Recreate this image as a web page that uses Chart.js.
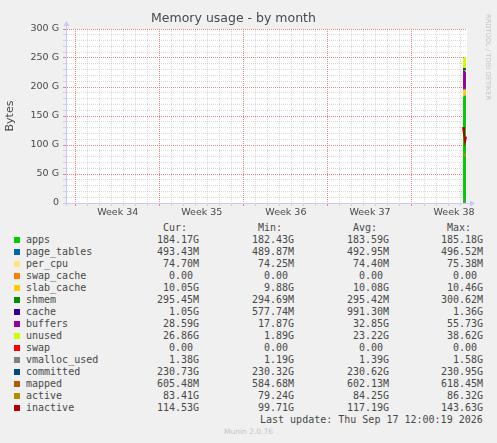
<!DOCTYPE html>
<html>
<head>
<meta charset="utf-8">
<title>Memory usage - by month</title>
<script src="https://cdn.jsdelivr.net/npm/chart.js@4.4.1/dist/chart.umd.min.js"></script>
<style>
  html, body { margin: 0; padding: 0; background: #f0f0f0; }
  #wrap { position: relative; width: 497px; height: 443px; overflow: hidden; font-family: "DejaVu Sans", sans-serif; }
  #chartBox { position: absolute; left: 0; top: 0; width: 497px; height: 222px; }
  .mono { position: absolute; font-family: "DejaVu Sans Mono", monospace; font-size: 10px; line-height: 12px; color: #484848; white-space: pre; }
  .swatch { position: absolute; width: 6px; height: 6px; }
  #rrd { position: absolute; left: 484px; top: 14px; font-size: 6.7px; line-height: 8px; color: #c4c4c4; writing-mode: vertical-rl; white-space: nowrap; }
  #munin { position: absolute; left: 0; width: 497px; top: 427px; text-align: center; font-size: 7.5px; line-height: 10px; color: #c4c4c4; }
</style>
</head>
<body>
<div id="wrap">
  <div id="chartBox"><canvas id="memChart"></canvas></div>
  <div id="rrd">RRDTOOL / TOBI OETIKER</div>
  <div id="legend"></div>
  <div id="munin">Munin 2.0.76</div>
</div>
<script>
// x axis is in days, day 0 = Monday of week 34
const weekLabels = ["Week 34", "Week 35", "Week 36", "Week 37", "Week 38"];
const yTickValues = [0, 50, 100, 150, 200, 250, 300];
const yTickLabels = ["0", "50 G", "100 G", "150 G", "200 G", "250 G", "300 G"];

// sample times (days) - only the last few hours hold data
const times = [32.25, 32.33, 32.42, 32.5];

// stacked areas, GB
const apps = [183.2, 184.6, 185.1, 184.17];
const pageTables = [0.49, 0.49, 0.49, 0.49];
const perCpu = [0.075, 0.075, 0.075, 0.075];
const swapCache = [0, 0, 0, 0];
const slabCache = [10.3, 10.1, 10.0, 10.05];
const shmem = [0.295, 0.295, 0.295, 0.295];
const cache = [1.3, 1.1, 1.0, 1.05];
const buffers = [33.5, 32.0, 30.5, 28.59];
const unused = [21.0, 22.5, 24.0, 26.86];
const swap = [0, 0, 0, 0];

// lines, GB
const vmallocUsed = [1.4, 1.4, 1.39, 1.38];
const committed = [230.6, 230.9, 230.5, 230.73];
const mapped = [0.6, 0.6, 0.61, 0.605];
const active = [85.5, 84.0, 83.0, 83.41];
const inactive = [131.0, 119.0, 106.0, 114.53];

const areaNames = ["apps", "page_tables", "per_cpu", "swap_cache", "slab_cache", "shmem", "cache", "buffers", "unused", "swap"];
const areaValues = [apps, pageTables, perCpu, swapCache, slabCache, shmem, cache, buffers, unused, swap];
const lineNames = ["vmalloc_used", "committed", "mapped", "active", "inactive"];
const lineValues = [vmallocUsed, committed, mapped, active, inactive];

// legend table values (as munin prints them)
const curVals = ["184.17G", "493.43M", "74.70M", "0.00", "10.05G", "295.45M", "1.05G", "28.59G", "26.86G", "0.00", "1.38G", "230.73G", "605.48M", "83.41G", "114.53G"];
const minVals = ["182.43G", "489.87M", "74.25M", "0.00", "9.88G", "294.69M", "577.74M", "17.87G", "1.89G", "0.00", "1.19G", "230.32G", "584.68M", "79.24G", "99.71G"];
const avgVals = ["183.59G", "492.95M", "74.40M", "0.00", "10.08G", "295.42M", "991.30M", "32.85G", "23.22G", "0.00", "1.39G", "230.62G", "602.13M", "84.25G", "117.19G"];
const maxVals = ["185.18G", "496.52M", "75.38M", "0.00", "10.46G", "300.62M", "1.36G", "55.73G", "38.62G", "0.00", "1.58G", "230.95G", "618.45M", "86.32G", "143.63G"];

const colors = {
  apps: "#00cc00", page_tables: "#0066b3", per_cpu: "#ffe680", swap_cache: "#ff8000",
  slab_cache: "#ffcc00", shmem: "#008f00", cache: "#330099", buffers: "#990099",
  unused: "#ccff00", swap: "#ff0000", vmalloc_used: "#808080", committed: "#00487d",
  mapped: "#b35a00", active: "#b38f00", inactive: "#b30000"
};

const majorGrid = "rgba(228, 110, 110, 0.85)";
const minorGrid = "rgba(160, 160, 160, 0.38)";
const axisColor = "#c8c8f4";

Chart.defaults.font.family = "DejaVu Sans";

const toPoints = vals => vals.map((v, i) => ({ x: times[i], y: v }));

const datasets = [];
areaNames.forEach((name, i) => {
  datasets.push({
    label: name,
    data: toPoints(areaValues[i]),
    stack: "mem",
    backgroundColor: colors[name],
    borderColor: colors[name],
    borderWidth: 0,
    fill: i === 0 ? "origin" : "-1",
    pointRadius: 0,
    order: 1
  });
});
lineNames.forEach((name, i) => {
  datasets.push({
    label: name,
    data: toPoints(lineValues[i]),
    stack: "line_" + name,
    borderColor: colors[name],
    borderWidth: 2,
    fill: false,
    pointRadius: 0,
    order: 0
  });
});

// white plot area, solid axes and the little rrdtool axis arrows
const plotDecor = {
  id: "plotDecor",
  beforeDraw(chart) {
    const { ctx, chartArea: a } = chart;
    ctx.save();
    ctx.fillStyle = "#ffffff";
    ctx.fillRect(a.left, a.top, a.right - a.left, a.bottom - a.top);
    ctx.restore();
  },
  afterDraw(chart) {
    const { ctx, chartArea: a } = chart;
    ctx.save();
    ctx.strokeStyle = axisColor;
    ctx.fillStyle = axisColor;
    ctx.lineWidth = 1;
    ctx.setLineDash([]);
    ctx.beginPath();
    ctx.moveTo(a.left + 0.5, a.bottom + 3);
    ctx.lineTo(a.left + 0.5, a.top - 3);
    ctx.moveTo(a.left - 3, a.bottom + 0.5);
    ctx.lineTo(a.right + 3, a.bottom + 0.5);
    ctx.stroke();
    ctx.beginPath();
    ctx.moveTo(a.left - 2.5, a.top - 3);
    ctx.lineTo(a.left + 3.5, a.top - 3);
    ctx.lineTo(a.left + 0.5, a.top - 8);
    ctx.closePath();
    ctx.fill();
    ctx.beginPath();
    ctx.moveTo(a.right + 3, a.bottom - 2.5);
    ctx.lineTo(a.right + 3, a.bottom + 3.5);
    ctx.lineTo(a.right + 8, a.bottom + 0.5);
    ctx.closePath();
    ctx.fill();
    ctx.restore();
  }
};

new Chart(document.getElementById("memChart"), {
  type: "line",
  data: { datasets: datasets },
  plugins: [plotDecor],
  options: {
    responsive: true,
    maintainAspectRatio: false,
    animation: false,
    layout: { padding: { left: 0, right: 30, top: 0, bottom: 0 } },
    plugins: {
      legend: { display: false },
      tooltip: { enabled: false },
      title: {
        display: true,
        text: "Memory usage - by month",
        color: "#484848",
        font: { size: 12.5, weight: "normal" },
        padding: { top: 11, bottom: 3 }
      }
    },
    scales: {
      x: {
        type: "linear",
        min: -0.81,
        max: 32.58,
        afterBuildTicks: scale => {
          const t = [];
          for (let v = Math.ceil(scale.min * 2) / 2; v <= scale.max; v += 0.5) t.push({ value: v });
          scale.ticks = t;
        },
        afterFit: scale => { scale.height = 19; },
        grid: {
          tickLength: 3,
          color: ctx => (ctx.tick.value % 7 === 0 ? majorGrid : Number.isInteger(ctx.tick.value) ? minorGrid : "rgba(0,0,0,0)"),
          tickColor: ctx => (ctx.tick.value % 7 === 0 ? majorGrid : Number.isInteger(ctx.tick.value) ? minorGrid : "rgba(0,0,0,0)")
        },
        border: { display: true, color: "rgba(0,0,0,0)", dash: [1, 1] },
        ticks: {
          autoSkip: false,
          maxRotation: 0,
          minRotation: 0,
          padding: 1,
          color: "#484848",
          font: { size: 9.5 },
          callback: v => (v % 7 === 3.5 ? weekLabels[(v - 3.5) / 7] : "")
        }
      },
      y: {
        stacked: true,
        min: 0,
        max: 300,
        afterBuildTicks: scale => {
          const t = [];
          for (let v = 0; v <= 300; v += 10) t.push({ value: v });
          scale.ticks = t;
        },
        afterFit: scale => { scale.width = 66; },
        title: {
          display: true,
          text: "Bytes",
          color: "#484848",
          font: { size: 11 },
          padding: { top: 4, bottom: 0 }
        },
        grid: {
          tickLength: 3,
          color: ctx => (ctx.tick.value % 50 === 0 ? majorGrid : minorGrid),
          tickColor: ctx => (ctx.tick.value % 50 === 0 ? majorGrid : minorGrid)
        },
        border: { display: true, color: "rgba(0,0,0,0)", dash: [1, 1] },
        ticks: {
          autoSkip: false,
          padding: 4,
          color: "#484848",
          font: { size: 9.5 },
          callback: v => {
            const k = yTickValues.indexOf(v);
            return k >= 0 ? yTickLabels[k] : "";
          }
        }
      }
    }
  }
});

// munin style legend table
const legendBox = document.getElementById("legend");
const colStarts = [157, 252, 347, 441];
const headers = ["Cur:", "Min:", "Avg:", "Max:"];
const allNames = areaNames.concat(lineNames);
const cols = [curVals, minVals, avgVals, maxVals];

function addText(text, left, top) {
  const d = document.createElement("div");
  d.className = "mono";
  d.style.left = left + "px";
  d.style.top = top + "px";
  d.textContent = text;
  legendBox.appendChild(d);
}
const cell = s => (/[A-Z]$/.test(s) ? s : s + " ").padStart(7);

headers.forEach((h, k) => addText(h, colStarts[k] + 6, 222));
allNames.forEach((name, i) => {
  const top = 234 + 12 * i;
  const sw = document.createElement("div");
  sw.className = "swatch";
  sw.style.left = "14px";
  sw.style.top = (top + 3) + "px";
  sw.style.background = colors[name];
  legendBox.appendChild(sw);
  addText(name, 26, top);
  cols.forEach((col, k) => addText(cell(col[i]), colStarts[k], top));
});
addText("Last update: Thu Sep 17 12:00:19 2026", 260, 414);
</script>
</body>
</html>
